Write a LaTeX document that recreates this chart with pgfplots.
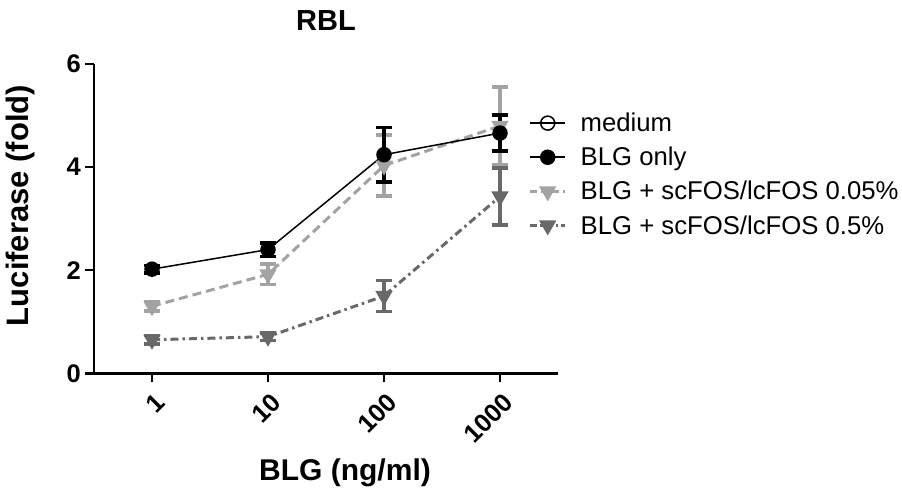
\documentclass[border=0pt]{standalone}
\usepackage{fontspec}
\setmainfont{Liberation Sans}
\usepackage{pgfplots}
\pgfplotsset{compat=1.18}
\definecolor{lgray}{RGB}{163,163,163}
\definecolor{dgray}{RGB}{105,105,105}
\begin{document}
\begin{tikzpicture}[x=1pt,y=1pt]
\begin{axis}[
  at={(94pt,121.7pt)}, anchor=south west,
  scale only axis, width=464pt, height=309.3pt,
  xmin=-0.5, xmax=3.5, ymin=0, ymax=6,
  axis x line*=bottom, axis y line*=left,
  axis line style={-, line width=2.6pt, black},
  tick align=outside, major tick length=9pt,
  tick style={line width=2.6pt, black},
  xtick={0,1,2,3}, xticklabels={1,10,100,1000},
  ytick={0,2,4,6},
  /pgf/number format/assume math mode=true,
  tick label style={font=\bfseries\fontsize{25.5}{25.5}\selectfont},
  y tick label style={inner sep=4pt},
  x tick label style={rotate=45, anchor=north east, inner sep=2pt, xshift=-3pt, yshift=-6pt},
  title={RBL},
  title style={font=\bfseries\fontsize{29}{29}\selectfont, at={(0.5,1)}, anchor=south, yshift=24pt},
  xlabel={BLG (ng/ml)},
  xlabel style={font=\bfseries\fontsize{30}{30}\selectfont, at={(axis description cs:0.541,-0.346)}, anchor=base},
  ylabel={Luciferase (fold)},
  ylabel style={font=\bfseries\fontsize{31}{31}\selectfont, at={(axis description cs:-0.158,0.5425)}, anchor=center},
  legend style={draw=none, fill=none, at={(0.93,0.855)}, anchor=north west,
    font=\fontsize{25.7}{25.7}\selectfont, row sep=10pt, column sep=12pt,
    nodes={inner sep=2pt}},
  legend cell align=left,
  legend image code/.code={\draw[mark repeat=2,mark phase=2,#1] plot coordinates {(0pt,0pt) (17.5pt,0pt) (35pt,0pt)};},
  every axis plot/.append style={mark size=7pt},
  error bars/error bar style={line width=3.5pt},
  error bars/error mark options={rotate=90, mark size=8pt, line width=3.5pt},
  clip=false,
]
\addlegendimage{black, line width=1.5pt, mark=o, mark options={solid, line width=1.5pt, fill=white}}
\addlegendentry{medium}
\addlegendimage{black, line width=1.5pt, mark=*, mark options={solid}}
\addlegendentry{BLG only}
\addlegendimage{lgray, line width=3pt, dash pattern=on 7pt off 4pt, mark=triangle*, mark options={solid, rotate=180, fill=lgray}}
\addlegendentry{BLG + scFOS/lcFOS 0.05\%}
\addlegendimage{dgray, line width=3pt, dash pattern=on 7pt off 3pt on 2.5pt off 3pt, mark=triangle*, mark options={solid, rotate=180, fill=dgray}}
\addlegendentry{BLG + scFOS/lcFOS 0.5\%}
% 0.05%
\addplot+[forget plot, lgray, line width=3pt, dash pattern=on 9pt off 5pt,
  mark=triangle*, mark options={solid, rotate=180, fill=lgray, draw=lgray},
  error bars/.cd, y dir=both, y explicit,
  error bar style={lgray, solid}, error mark options={lgray, solid, rotate=90, mark size=8pt, line width=3.5pt}]
  coordinates {(0,1.30) +- (0,0.09) (1,1.92) +- (0,0.20) (2,4.03) +- (0,0.59) (3,4.80) +- (0,0.75)};
% 0.5%
\addplot+[forget plot, dgray, line width=3pt, dash pattern=on 8pt off 4pt on 2.5pt off 4pt,
  mark=triangle*, mark options={solid, rotate=180, fill=dgray, draw=dgray},
  error bars/.cd, y dir=both, y explicit,
  error bar style={dgray, solid}, error mark options={dgray, solid, rotate=90, mark size=8pt, line width=3.5pt}]
  coordinates {(0,0.65) +- (0,0.08) (1,0.71) +- (0,0.07) (2,1.50) +- (0,0.30) (3,3.43) +- (0,0.55)};
% BLG only
\addplot+[forget plot, black, line width=1.5pt, solid,
  mark=*, mark options={solid, fill=black, draw=black},
  error bars/.cd, y dir=both, y explicit,
  error bar style={black, solid}, error mark options={black, solid, rotate=90, mark size=8pt, line width=3.5pt}]
  coordinates {(0,2.02) +- (0,0.07) (1,2.40) +- (0,0.13) (2,4.24) +- (0,0.53) (3,4.66) +- (0,0.35)};
\end{axis}
\pgfresetboundingbox
\path (0,0) rectangle (902,495);
\end{tikzpicture}
\end{document}
